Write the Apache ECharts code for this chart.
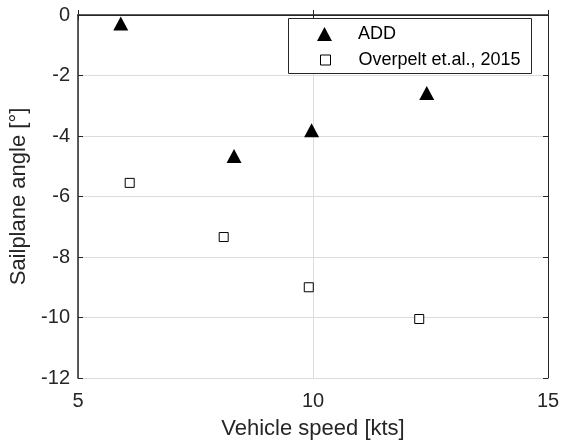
<!DOCTYPE html>
<html>
<head>
<meta charset="utf-8">
<script src="https://cdn.jsdelivr.net/npm/echarts@6/dist/echarts.min.js"></script>
<style>
  html, body { margin: 0; padding: 0; background: #fff; }
  #main { width: 561px; height: 441px; }
</style>
</head>
<body>
<div id="main"></div>
<script>
// data
var addSpeed = [5.91, 8.32, 9.97, 12.42];
var addAngle = [-0.28, -4.66, -3.81, -2.58];
var overSpeed = [6.10, 8.10, 9.91, 12.26];
var overAngle = [-5.55, -7.34, -9.00, -10.05];
var seriesNames = ['ADD', 'Overpelt et.al., 2015'];

function pairs(xs, ys) {
  var out = [];
  for (var i = 0; i < xs.length; i++) {
    out.push([xs[i], ys[i]]);
  }
  return out;
}

var textColor = '#262626';
var fontName = 'Liberation Sans, Arial, sans-serif';

var myChart = echarts.init(document.getElementById('main'));
var option = {
  animation: false,
  backgroundColor: '#fff',
  textStyle: { fontFamily: fontName },
  grid: { left: 78, right: 13, top: 15, bottom: 63, outerBoundsMode: 'none' },
  xAxis: [{
    type: 'value',
    min: 5, max: 15, interval: 5,
    name: 'Vehicle speed [kts]',
    nameLocation: 'middle',
    nameGap: 40,
    nameTextStyle: { fontSize: 22, color: textColor, fontFamily: fontName },
    axisLine: { lineStyle: { color: textColor, width: 1.5 } },
    axisTick: { inside: true, length: 5, lineStyle: { color: textColor } },
    axisLabel: { fontSize: 20, color: textColor, margin: 13, fontFamily: fontName },
    splitLine: { show: true, lineStyle: { color: '#dcdcdc' } }
  }, {
    type: 'value',
    position: 'top',
    min: 5, max: 15, interval: 5,
    axisLine: { show: true, onZero: false, lineStyle: { color: textColor, width: 1 } },
    axisTick: { inside: true, length: 5, lineStyle: { color: textColor } },
    axisLabel: { show: false },
    splitLine: { show: false }
  }],
  yAxis: [{
    type: 'value',
    min: -12, max: 0, interval: 2,
    name: 'Sailplane angle [°]',
    nameLocation: 'middle',
    nameGap: 45,
    nameTextStyle: { fontSize: 22, color: textColor, fontFamily: fontName },
    axisLine: { onZero: false, lineStyle: { color: textColor, width: 1.5 } },
    axisTick: { show: true, inside: true, length: 5, lineStyle: { color: textColor } },
    axisLabel: { fontSize: 20, color: textColor, margin: 8, fontFamily: fontName },
    splitLine: { show: true, lineStyle: { color: '#dcdcdc' } }
  }, {
    type: 'value',
    position: 'right',
    min: -12, max: 0, interval: 2,
    axisLine: { show: true, onZero: false, lineStyle: { color: textColor, width: 1 } },
    axisTick: { show: true, inside: true, length: 5, lineStyle: { color: textColor } },
    axisLabel: { show: false },
    splitLine: { show: false }
  }],
  graphic: [{
    type: 'rect',
    left: 288, top: 18,
    shape: { width: 243, height: 55 },
    style: { fill: '#fff', stroke: textColor, lineWidth: 1 },
    z: 5
  }],
  legend: [{
    data: [seriesNames[0]],
    left: 317, top: 25,
    padding: 0,
    itemWidth: 15, itemHeight: 14,
    textStyle: { fontSize: 18, color: '#000', fontFamily: fontName, padding: [0, 0, 0, 21] },
    z: 10
  }, {
    data: [seriesNames[1]],
    left: 320, top: 51,
    padding: 0,
    itemWidth: 10, itemHeight: 10,
    itemStyle: { borderWidth: 1 },
    textStyle: { fontSize: 18, color: '#000', fontFamily: fontName, padding: [0, 0, 0, 23] },
    z: 10
  }],
  series: [{
    name: seriesNames[0],
    type: 'scatter',
    symbol: 'triangle',
    symbolSize: [15, 14],
    itemStyle: { color: '#000', opacity: 1 },
    data: pairs(addSpeed, addAngle),
    z: 3
  }, {
    name: seriesNames[1],
    type: 'scatter',
    symbol: 'rect',
    symbolSize: 9,
    itemStyle: { color: '#fff', borderColor: '#000', borderWidth: 1, opacity: 1 },
    data: pairs(overSpeed, overAngle),
    z: 3
  }]
};
myChart.setOption(option);
</script>
</body>
</html>
